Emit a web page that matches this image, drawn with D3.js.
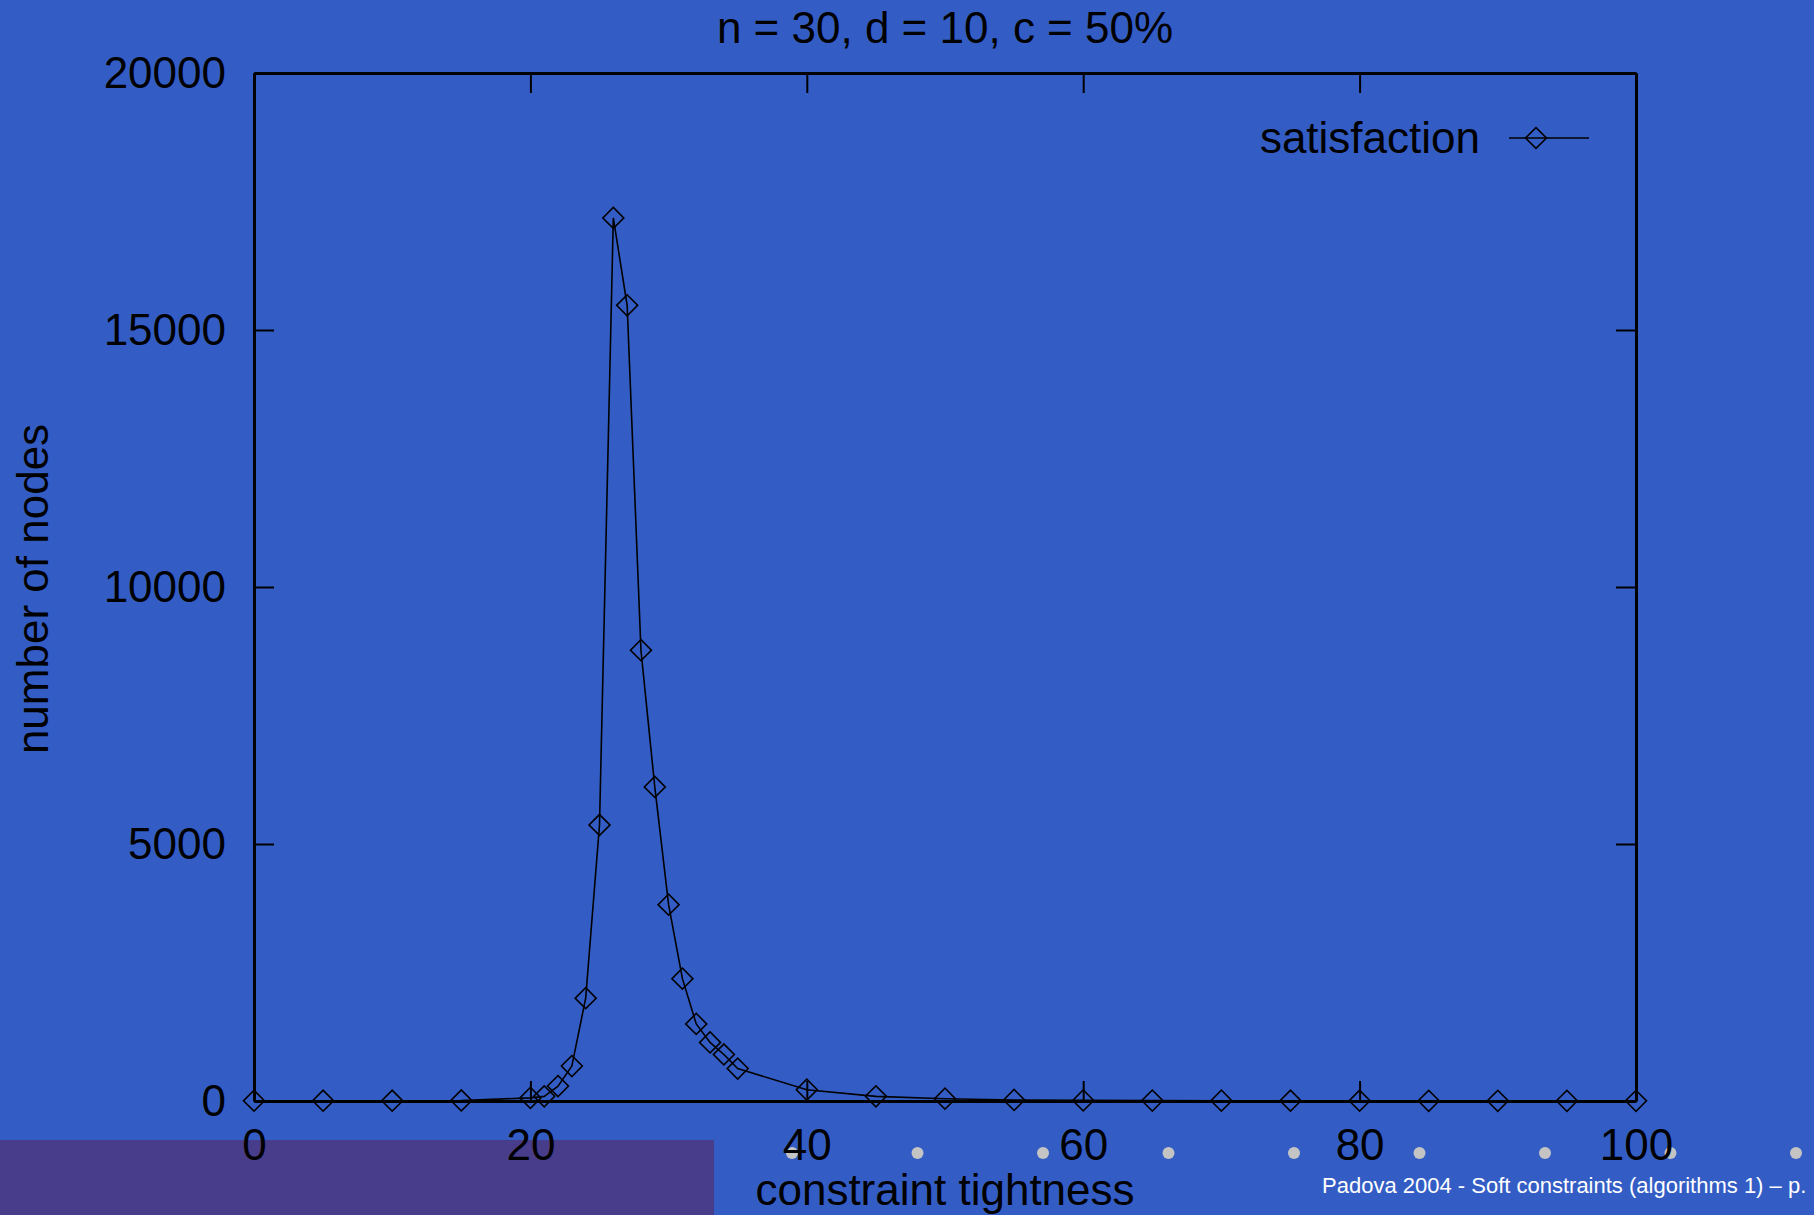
<!DOCTYPE html>
<html>
<head>
<meta charset="utf-8">
<script src="https://cdn.jsdelivr.net/npm/d3@7"></script>
<style>
  html, body { margin: 0; padding: 0; background: #335dc5; overflow: hidden; }
  text { font-family: "Liberation Sans", Arial, sans-serif; fill: #000; }
</style>
</head>
<body>
<div id="chart"></div>
<script>
// data
const tightness = [0, 5, 10, 15, 20, 21, 22, 23, 24, 25, 26, 27, 28, 29, 30, 31, 32, 33, 34, 35,
  40, 45, 50, 55, 60, 65, 70, 75, 80, 85, 90, 95, 100]
const nodes = [5, 5, 5, 10, 60, 90, 290, 680, 2000, 5370, 17180, 15480, 8770, 6110, 3820, 2380, 1500, 1140, 905, 630,
  220, 90, 45, 20, 12, 8, 6, 5, 5, 4, 4, 3, 3]
const xTicks = [0, 20, 40, 60, 80, 100]
const yTicks = [0, 5000, 10000, 15000, 20000]
const title = 'n = 30, d = 10, c = 50%'
const seriesName = 'satisfaction'
const footer = 'Padova 2004 - Soft constraints (algorithms 1) – p.'
const navDots = [0, 1, 2, 3, 4, 5, 6, 7, 8]

// sizes
const width = 1814
const height = 1215
const margin = { top: 73, right: 178, bottom: 114, left: 254 }

const svg = d3.select('#chart')
  .append('svg')
  .attr('width', width)
  .attr('height', height)

svg.append('rect').attr('width', width).attr('height', height).attr('fill', '#335dc5')

// purple block bottom-left
svg.append('rect')
  .attr('x', 0).attr('y', 1140)
  .attr('width', 714).attr('height', height - 1140)
  .attr('fill', '#483d8b')

// navigation dots
svg.append('g')
  .selectAll('circle')
  .data(navDots)
  .enter().append('circle')
  .attr('cx', d => 792 + d * 125.5)
  .attr('cy', 1153)
  .attr('r', 6)
  .attr('fill', '#c4c4c4')

// scales
const x = d3.scaleLinear().domain([0, 100]).range([margin.left, width - margin.right])
const y = d3.scaleLinear().domain([0, 20000]).range([height - margin.bottom, margin.top])

const tickLen = 20

function styleAxis (g) {
  g.select('.domain').attr('stroke', '#000').attr('stroke-width', 3)
  g.selectAll('.tick line').attr('stroke', '#000').attr('stroke-width', 2)
  g.selectAll('text')
    .style('font-family', '"Liberation Sans", Arial, sans-serif')
    .style('font-size', '44px')
    .attr('fill', '#000')
}

svg.append('g')
  .attr('transform', `translate(0,${y(0)})`)
  .call(d3.axisBottom(x).tickValues(xTicks).tickSize(-tickLen).tickSizeOuter(0).tickPadding(28))
  .call(styleAxis)

svg.append('g')
  .attr('transform', `translate(0,${y(20000)})`)
  .call(d3.axisTop(x).tickValues(xTicks).tickSize(-tickLen).tickSizeOuter(0).tickFormat(''))
  .call(styleAxis)

svg.append('g')
  .attr('transform', `translate(${x(0)},0)`)
  .call(d3.axisLeft(y).tickValues(yTicks).tickSize(-tickLen).tickSizeOuter(0).tickPadding(28).tickFormat(d3.format('d')))
  .call(styleAxis)

svg.append('g')
  .attr('transform', `translate(${x(100)},0)`)
  .call(d3.axisRight(y).tickValues(yTicks).tickSize(-tickLen).tickSizeOuter(0).tickFormat(''))
  .call(styleAxis)

// series
const pts = tightness.map((t, i) => [t, nodes[i]])
const line = d3.line().x(d => x(d[0])).y(d => y(d[1]))

svg.append('path')
  .datum(pts)
  .attr('d', line)
  .attr('fill', 'none')
  .attr('stroke', '#000')
  .attr('stroke-width', 1.6)

const diamond = d3.symbol(d3.symbolSquare, 220)

svg.append('g')
  .selectAll('path')
  .data(pts)
  .enter().append('path')
  .attr('d', diamond)
  .attr('transform', d => `translate(${x(d[0])},${y(d[1])}) rotate(45)`)
  .attr('fill', 'none')
  .attr('stroke', '#000')
  .attr('stroke-width', 1.6)

// legend
const lg = svg.append('g')
lg.append('text')
  .attr('x', 1480).attr('y', 153)
  .attr('text-anchor', 'end')
  .style('font-size', '44px')
  .text(seriesName)
lg.append('line')
  .attr('x1', 1509).attr('x2', 1589)
  .attr('y1', 138).attr('y2', 138)
  .attr('stroke', '#000').attr('stroke-width', 1.6)
lg.append('path')
  .attr('d', diamond)
  .attr('transform', 'translate(1536,138) rotate(45)')
  .attr('fill', 'none')
  .attr('stroke', '#000')
  .attr('stroke-width', 1.6)

// titles
svg.append('text')
  .attr('x', 945).attr('y', 43)
  .attr('text-anchor', 'middle')
  .style('font-size', '44px')
  .text(title)

svg.append('text')
  .attr('x', 945).attr('y', 1205)
  .attr('text-anchor', 'middle')
  .style('font-size', '44px')
  .text('constraint tightness')

svg.append('text')
  .attr('transform', 'translate(48,589) rotate(-90)')
  .attr('text-anchor', 'middle')
  .style('font-size', '44px')
  .text('number of nodes')

svg.append('text')
  .attr('x', 1322).attr('y', 1193)
  .style('font-size', '22px')
  .style('fill', '#fff')
  .text(footer)
</script>
</body>
</html>
